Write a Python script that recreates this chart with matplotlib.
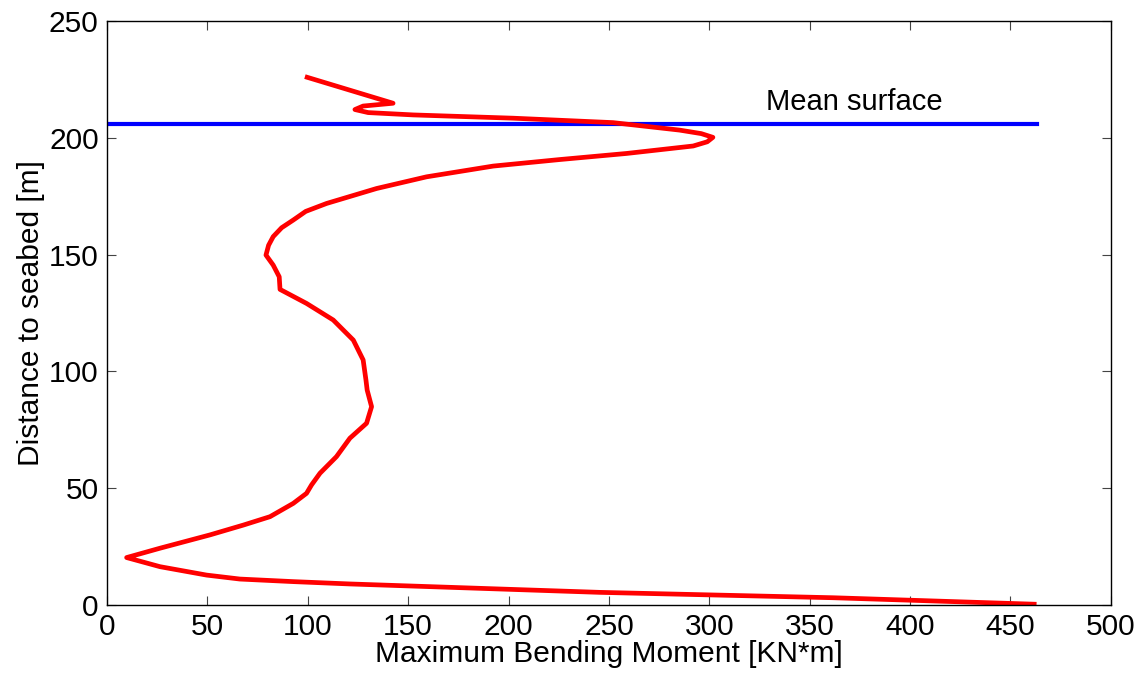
import matplotlib.pyplot as plt
import numpy as np

plt.rcParams['font.family'] = ['Liberation Sans', 'DejaVu Sans']

# bending moment profile, from top of riser down to seabed
moment = [98.6, 142.5, 127.6, 123.5, 130.1, 152.5, 202.3, 252.1, 285.2, 296.0,
          301.8, 299.0, 292.0, 258.8, 225.6, 192.4, 159.2, 134.3, 109.4, 99.0,
          92.8, 87.0, 82.8, 80.5, 79.2, 82.8, 85.8, 86.2, 99.4, 112.7,
          122.7, 127.6, 129.0, 129.6, 131.8, 129.3, 121.0, 114.3, 106.1, 101.9,
          99.4, 92.8, 81.2, 67.9, 51.3, 26.4, 9.8, 26.4, 49.6, 66.2,
          92.8, 121.0, 245.5, 361.7, 463.0]
depth = [226.2, 214.8, 213.6, 212.1, 210.8, 209.8, 208.4, 206.5, 203.3, 201.8,
         200.2, 198.3, 196.5, 193.3, 190.7, 187.9, 183.3, 178.3, 171.9, 168.5,
         164.8, 161.5, 157.7, 154.0, 149.8, 145.5, 140.5, 135.1, 129.1, 122.0,
         113.4, 104.9, 96.3, 92.0, 84.9, 77.8, 71.4, 63.5, 56.4, 51.4,
         47.8, 43.5, 37.8, 34.2, 30.0, 24.3, 20.3, 16.4, 12.8, 11.1,
         10.0, 9.0, 5.4, 3.1, 0.3]

mean_surface = 206.0
surface_x = [0, 463]

fig = plt.figure(figsize=(11.44, 6.78), dpi=100)
ax = fig.add_axes([0.0935, 0.1077, 0.8775, 0.8613])

ax.plot(surface_x, [mean_surface, mean_surface], color='#0000ff', lw=3.0)
ax.plot(moment, depth, color='#ff0000', lw=3.4,
        solid_joinstyle='round', solid_capstyle='butt')
ax.text(372, 215.5, 'Mean surface', fontsize=21, ha='center', va='center')

ax.set_xlim(0, 500)
ax.set_ylim(0, 250)
ax.set_xticks(np.arange(0, 501, 50))
ax.set_yticks(np.arange(0, 251, 50))
ax.tick_params(direction='in', length=6.5, width=0.8, color='#444444',
               top=True, right=True, labelsize=21.5, pad=6)
for s in ax.spines.values():
    s.set_linewidth(1.0)

ax.set_xlabel('Maximum Bending Moment [KN*m]', fontsize=21.5, labelpad=-1)
ax.set_ylabel('Distance to seabed [m]', fontsize=21.5, labelpad=3)

fig.savefig('out.png', dpi=100)
